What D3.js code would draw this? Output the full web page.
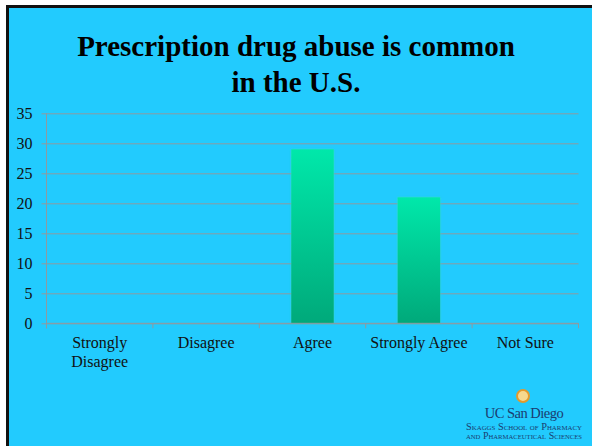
<!DOCTYPE html>
<html>
<head>
<meta charset="utf-8">
<script src="https://cdn.jsdelivr.net/npm/d3@7"></script>
<style>
  html, body { margin: 0; padding: 0; background: #ffffff; }
  svg { display: block; }
  text { font-family: "Liberation Serif", "Times New Roman", serif; }
</style>
</head>
<body>
<svg id="chart" width="592" height="446"></svg>
<script>
// Survey responses
const categories = ["Strongly Disagree", "Disagree", "Agree", "Strongly Agree", "Not Sure"];
const values = [0, 0, 29, 21, 0];
const yTicks = [0, 5, 10, 15, 20, 25, 30, 35];
const titleLines = ["Prescription drug abuse is common", "in the U.S."];

const W = 592, H = 446;
const svg = d3.select("#chart");

// Slide background with dark frame on top/left
svg.append("rect").attr("x", 0).attr("y", 0).attr("width", W).attr("height", H).attr("fill", "#ffffff");
svg.append("rect")
  .attr("x", 7.5).attr("y", 6.5)
  .attr("width", W + 20).attr("height", H + 20)
  .attr("fill", "#22CBFE")
  .attr("stroke", "#111111").attr("stroke-width", 3);

// Title
svg.append("g").selectAll("text")
  .data(titleLines)
  .join("text")
  .attr("x", 296)
  .attr("y", (d, i) => 56 + i * 35.5)
  .attr("text-anchor", "middle")
  .attr("font-size", 29)
  .attr("font-weight", "bold")
  .attr("fill", "#000000")
  .text(d => d);

// Plot geometry
const plot = { left: 46.5, right: 578.5, top: 113.3, bottom: 323.3 };

const x = d3.scaleBand()
  .domain(categories)
  .range([plot.left, plot.right])
  .paddingInner(0.6)
  .paddingOuter(0.3);

const xEdges = d3.scaleLinear()
  .domain([0, categories.length])
  .range([plot.left, plot.right]);

const y = d3.scaleLinear()
  .domain([0, 35])
  .range([plot.bottom, plot.top]);

const gridColor = "#8E9AA0";

// Horizontal gridlines with left tick marks
const yAxis = d3.axisLeft(y)
  .tickValues(yTicks)
  .tickSize(-(plot.right - plot.left))
  .tickFormat(d3.format("d"));

const gy = svg.append("g")
  .attr("transform", `translate(${plot.left},0)`)
  .call(yAxis);
gy.select(".domain").remove();
gy.selectAll(".tick line")
  .attr("stroke", gridColor).attr("stroke-width", 1)
  .attr("x1", -5);
gy.selectAll(".tick text")
  .attr("x", -14)
  .attr("font-size", 16)
  .attr("fill", "#111111")
  .style("font-family", "'Liberation Serif', 'Times New Roman', serif");

// Vertical axis line
svg.append("line")
  .attr("x1", plot.left).attr("x2", plot.left)
  .attr("y1", y(35)).attr("y2", plot.bottom + 5)
  .attr("stroke", gridColor).attr("stroke-width", 1);

// Category boundary ticks along the baseline
svg.append("g").selectAll("line")
  .data(d3.range(categories.length + 1))
  .join("line")
  .attr("x1", d => xEdges(d)).attr("x2", d => xEdges(d))
  .attr("y1", plot.bottom).attr("y2", plot.bottom + 5)
  .attr("stroke", gridColor).attr("stroke-width", 1);

// Bar gradient
const defs = svg.append("defs");
const grad = defs.append("linearGradient")
  .attr("id", "barGrad")
  .attr("x1", 0).attr("y1", 0).attr("x2", 0).attr("y2", 1);
grad.append("stop").attr("offset", "0%").attr("stop-color", "#00E8AA");
grad.append("stop").attr("offset", "100%").attr("stop-color", "#00A97A");

const glow = defs.append("filter").attr("id", "barGlow")
  .attr("x", "-20%").attr("y", "-10%").attr("width", "140%").attr("height", "120%");
glow.append("feGaussianBlur").attr("in", "SourceAlpha").attr("stdDeviation", 1.2).attr("result", "b");
glow.append("feFlood").attr("flood-color", "#2FD9C8").attr("flood-opacity", 0.8);
glow.append("feComposite").attr("in2", "b").attr("operator", "in").attr("result", "g");
const merge = glow.append("feMerge");
merge.append("feMergeNode").attr("in", "g");
merge.append("feMergeNode").attr("in", "SourceGraphic");

// Bars
svg.append("g").selectAll("rect")
  .data(categories.map((c, i) => ({ c, v: values[i] })).filter(d => d.v > 0))
  .join("rect")
  .attr("x", d => x(d.c))
  .attr("width", x.bandwidth())
  .attr("y", d => y(d.v))
  .attr("height", d => y(0) - y(d.v))
  .attr("fill", "url(#barGrad)")
  .attr("filter", "url(#barGlow)");

// Baseline redrawn over bars
svg.append("line")
  .attr("x1", plot.left).attr("x2", plot.right)
  .attr("y1", plot.bottom).attr("y2", plot.bottom)
  .attr("stroke", gridColor).attr("stroke-width", 1);

// Category labels, wrapped to the band width
const labelG = svg.append("g");
categories.forEach((c, i) => {
  const cx = xEdges(i + 0.5);
  const t = labelG.append("text")
    .attr("x", cx).attr("y", 348)
    .attr("text-anchor", "middle")
    .attr("font-size", 16)
    .attr("fill", "#111111");
  const words = c.split(" ");
  let line = [];
  let tspan = t.append("tspan").attr("x", cx).attr("dy", 0);
  words.forEach(w => {
    line.push(w);
    tspan.text(line.join(" "));
    if (tspan.node().getComputedTextLength() > xEdges(1) - xEdges(0) - 2 && line.length > 1) {
      line.pop();
      tspan.text(line.join(" "));
      line = [w];
      tspan = t.append("tspan").attr("x", cx).attr("dy", 19).text(w);
    }
  });
});

// Institution mark, lower right
const logo = svg.append("g");
logo.append("circle")
  .attr("cx", 523).attr("cy", 396).attr("r", 6)
  .attr("fill", "#F6D88E").attr("stroke", "#E39A2C").attr("stroke-width", 2);
logo.append("text")
  .attr("x", 524).attr("y", 417.5)
  .attr("text-anchor", "middle")
  .attr("font-size", 14.5)
  .attr("letter-spacing", -0.5)
  .attr("fill", "#1B3C70")
  .text("UC San Diego");
logo.append("text")
  .attr("x", 524).attr("y", 429.5)
  .attr("text-anchor", "middle")
  .attr("font-size", 10.5)
  .attr("fill", "#1B3C70")
  .attr("textLength", 116)
  .attr("lengthAdjust", "spacingAndGlyphs")
  .style("font-variant", "small-caps")
  .text("Skaggs School of Pharmacy");
logo.append("text")
  .attr("x", 524).attr("y", 439)
  .attr("text-anchor", "middle")
  .attr("font-size", 10.5)
  .attr("fill", "#1B3C70")
  .attr("textLength", 116)
  .attr("lengthAdjust", "spacingAndGlyphs")
  .style("font-variant", "small-caps")
  .text("and Pharmaceutical Sciences");
</script>
</body>
</html>
